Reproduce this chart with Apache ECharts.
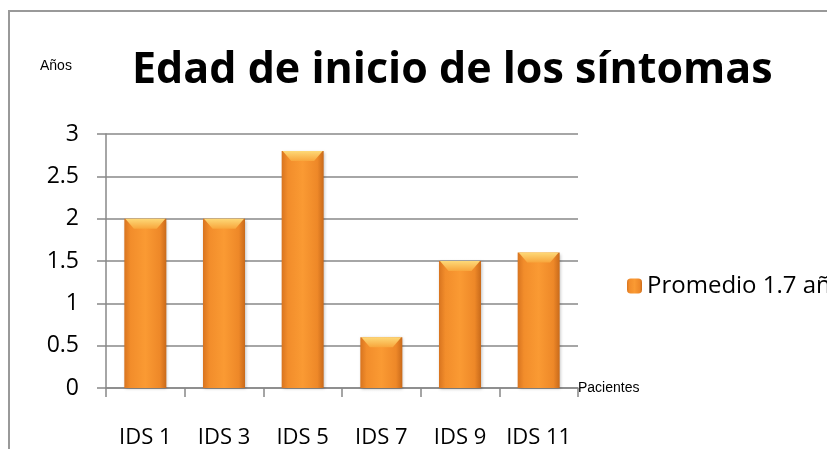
<!DOCTYPE html>
<html>
<head>
<meta charset="utf-8">
<script src="https://cdn.jsdelivr.net/npm/echarts@6/dist/echarts.min.js"></script>
<style>
  html, body { margin: 0; padding: 0; background: #fff; }
  #chart { width: 827px; height: 449px; }
</style>
</head>
<body>
<div id="chart"></div>
<script>
const categories = ['IDS 1', 'IDS 3', 'IDS 5', 'IDS 7', 'IDS 9', 'IDS 11'];
const edadInicio = [2, 2, 2.8, 0.6, 1.5, 1.6];
const seriesName = 'Promedio 1.7 años';

const chart = echarts.init(document.getElementById('chart'));

const barColor = new echarts.graphic.LinearGradient(0, 0, 1, 0, [
    { offset: 0, color: '#D8741F' },
    { offset: 0.15, color: '#F28D2B' },
    { offset: 0.5, color: '#FA9A33' },
    { offset: 0.85, color: '#EE8828' },
    { offset: 1, color: '#C96A1A' },
]);

const bevelColor = new echarts.graphic.LinearGradient(0, 0, 0, 1, [
    { offset: 0, color: '#FDD978' },
    { offset: 1, color: '#F8A63C' },
]);

const option = {
    animation: false,
    backgroundColor: '#fff',
    title: [
        {
            text: 'Edad de inicio de los síntomas',
            left: 127,
            top: 44,
            textStyle: {
                fontFamily: 'Open Sans',
                fontWeight: 'bold',
                fontSize: 43,
                color: '#000',
            },
        },
        {
            text: 'Años',
            left: 35,
            top: 54,
            textStyle: {
                fontFamily: 'Liberation Sans',
                fontWeight: 'normal',
                fontSize: 14,
                color: '#000',
            },
        },
    ],
    legend: {
        data: [seriesName],
        left: 622,
        top: 269,
        itemWidth: 15,
        itemHeight: 15,
        itemGap: 8,
        textStyle: {
            fontFamily: 'Open Sans',
            fontSize: 24,
            color: '#000',
        },
    },
    grid: {
        left: 106,
        top: 134,
        right: 249,
        bottom: 61,
    },
    xAxis: {
        type: 'category',
        data: categories,
        name: 'Pacientes',
        nameLocation: 'end',
        nameGap: 0,
        nameTextStyle: {
            fontFamily: 'Liberation Sans',
            fontSize: 14,
            color: '#000',
            verticalAlign: 'middle',
        },
        axisLine: { lineStyle: { color: '#888', width: 1.5 } },
        axisTick: { show: true, length: 9, lineStyle: { color: '#888', width: 1.5 } },
        axisLabel: {
            margin: 39,
            fontFamily: 'Open Sans',
            fontSize: 22,
            color: '#000',
            interval: 0,
        },
    },
    yAxis: {
        type: 'value',
        min: 0,
        max: 3,
        interval: 0.5,
        axisLine: { show: true, lineStyle: { color: '#888', width: 1.5 } },
        axisTick: { show: true, length: 9, lineStyle: { color: '#888', width: 1.5 } },
        splitLine: { lineStyle: { color: '#888', width: 1.5 } },
        axisLabel: {
            margin: 27,
            fontFamily: 'Open Sans',
            fontSize: 23,
            color: '#000',
        },
    },
    graphic: [
        {
            type: 'rect',
            shape: { x: 9, y: 11, width: 830, height: 450 },
            style: { fill: 'none', stroke: '#999', lineWidth: 2 },
            silent: true,
        },
    ],
    series: [
        {
            name: seriesName,
            type: 'bar',
            data: edadInicio,
            barWidth: 42,
            itemStyle: {
                color: barColor,
                shadowColor: 'rgba(0,0,0,0.25)',
                shadowBlur: 3,
                shadowOffsetX: 1,
                shadowOffsetY: 1,
            },
        },
        {
            name: 'bevel',
            type: 'pictorialBar',
            data: edadInicio,
            symbol: 'path://M0,0 L42,0 L33,10 L9,10 Z',
            symbolSize: [40, 10],
            symbolPosition: 'end',
            symbolOffset: [0, 0],
            barGap: '-100%',
            itemStyle: { color: bevelColor },
            silent: true,
            z: 3,
        },
    ],
};

chart.setOption(option);
window.addEventListener('resize', () => {
    chart.resize();
});
</script>
</body>
</html>
